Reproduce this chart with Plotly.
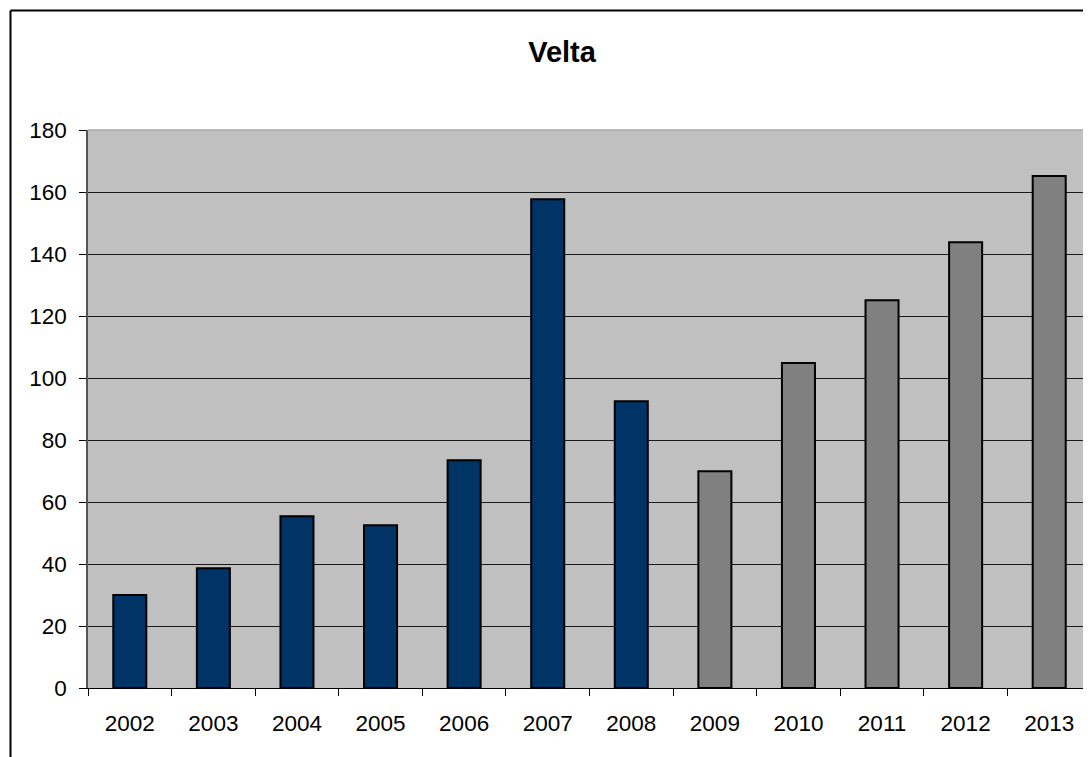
import plotly.graph_objects as go

years = ["2002", "2003", "2004", "2005", "2006", "2007", "2008",
         "2009", "2010", "2011", "2012", "2013"]
values = [30.0, 38.6, 55.4, 52.5, 73.5, 157.7, 92.5,
          69.9, 104.8, 125.1, 143.8, 165.2]
last_actual_year = 2008

# page body has an 8px margin, so the figure is sized/offset accordingly
OFF = 8
W, H = 1091 - OFF, 757 - OFF
ML, MR, MT, MB = 88 - OFF, 0, 130 - OFF, 757 - 688

colors = ["#003366" if int(y) <= last_actual_year else "#808080" for y in years]

fig = go.Figure(go.Bar(
    x=years, y=values,
    marker=dict(color=colors, line=dict(color="#000000", width=2)),
    showlegend=False,
))

pw = W - ML - MR
ph = H - MT - MB
bx = (10.5 - OFF - ML) / pw
by = (H - MB - (10.5 - OFF)) / ph
by0 = -MB / ph

fig.update_layout(
    width=W, height=H,
    margin=dict(l=ML, r=MR, t=MT, b=MB, pad=0),
    paper_bgcolor="#FFFFFF",
    plot_bgcolor="#C0C0C0",
    font=dict(family="Liberation Sans, Arial, sans-serif", size=22.5, color="#000000"),
    title=dict(text="<b>Velta</b>", x=(562 - OFF) / W, xanchor="center", xref="container",
               y=1 - (52 - OFF) / H, yanchor="middle", yref="container",
               font=dict(size=29, color="#000000")),
    bargap=0.605,
    xaxis=dict(
        type="category", showgrid=False, showline=True, linecolor="#000000", linewidth=1,
        ticks="outside", tickson="boundaries", ticklen=7, tickcolor="#000000", tickwidth=1,
        ticklabelstandoff=15,
    ),
    yaxis=dict(
        range=[0, 180], tickvals=list(range(0, 181, 20)),
        showgrid=True, gridcolor="#1a1a1a", gridwidth=1,
        showline=True, linecolor="#555555", linewidth=1.5,
        ticks="outside", ticklen=7, tickcolor="#000000", tickwidth=1,
        zeroline=False, ticklabelstandoff=8,
    ),
    shapes=[
        dict(type="line", xref="paper", yref="paper", x0=bx, x1=bx, y0=by0 - 0.1, y1=by,
             line=dict(color="#000000", width=2)),
        dict(type="line", xref="paper", yref="paper", x0=bx, x1=1.1, y0=by, y1=by,
             line=dict(color="#000000", width=2)),
        dict(type="line", xref="paper", yref="paper", x0=0, x1=1, y0=1, y1=1,
             line=dict(color="#A8A8A8", width=1.5), layer="above"),
    ],
)

fig.write_html("out.html")
